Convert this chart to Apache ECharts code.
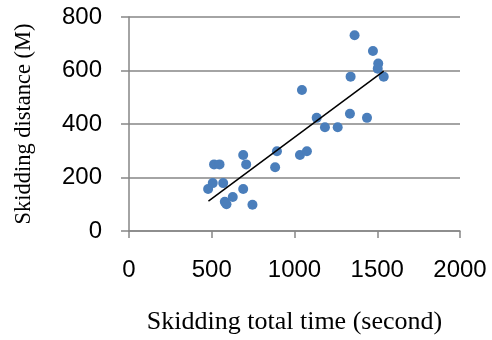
<!DOCTYPE html>
<html>
<head>
<meta charset="utf-8">
<script src="https://cdn.jsdelivr.net/npm/echarts@6/dist/echarts.min.js"></script>
<style>html,body{margin:0;padding:0;background:#fff}#c{width:492px;height:340px}</style>
</head>
<body>
<div id="c"></div>
<script>
// Skidding total time (second)
const timeSec = [478, 506, 514, 547, 569, 579, 589, 627, 690, 708, 690, 746, 883, 894, 1033, 1075, 1045, 1134, 1184, 1261, 1335, 1438, 1339, 1363, 1474, 1506, 1503, 1539];
// Skidding distance (M)
const distM = [157, 179, 249, 249, 179, 109, 100, 127, 284, 249, 157, 98, 238, 298, 284, 298, 527, 423, 388, 388, 438, 423, 577, 732, 673, 626, 607, 577];
// Linear trend line endpoints
const trendX = [480, 1539];
const trendY = [112, 598];
const xTicks = [0, 500, 1000, 1500, 2000];
const yTicks = [0, 200, 400, 600, 800];

const points = timeSec.map((t, i) => [t, distM[i]]);
const trend = trendX.map((t, i) => [t, trendY[i]]);

const chart = echarts.init(document.getElementById('c'), null, {renderer: 'canvas'});
const axisGray = '#868686';
chart.setOption({
  animation: false,
  grid: {left: 129, right: 32, top: 17, bottom: 108},
  xAxis: {
    type: 'value', min: xTicks[0], max: xTicks[xTicks.length - 1], interval: 500,
    name: 'Skidding total time (second)', nameLocation: 'middle', nameGap: 78,
    nameTextStyle: {fontFamily: 'Liberation Serif', fontSize: 26, color: '#000'},
    axisLine: {show: true, onZero: false, lineStyle: {color: axisGray, width: 1.5}},
    axisTick: {show: true, length: 7, lineStyle: {color: axisGray, width: 1.5}},
    axisLabel: {fontFamily: 'Liberation Sans', fontSize: 24, color: '#000', margin: 27,
      formatter: v => String(v)},
    splitLine: {show: false}
  },
  yAxis: {
    type: 'value', min: yTicks[0], max: yTicks[yTicks.length - 1], interval: 200,
    name: 'Skidding distance (M)', nameLocation: 'middle', nameGap: 93, nameRotate: 90,
    nameTextStyle: {fontFamily: 'Liberation Serif', fontSize: 22.5, color: '#000'},
    axisLine: {show: true, lineStyle: {color: axisGray, width: 1.5}},
    axisTick: {show: true, length: 8, lineStyle: {color: axisGray, width: 1.5}},
    axisLabel: {fontFamily: 'Liberation Sans', fontSize: 24, color: '#000', margin: 27,
      formatter: v => String(v)},
    splitLine: {show: true, lineStyle: {color: axisGray, width: 1.5}}
  },
  series: [
    {
      type: 'scatter', data: points, symbolSize: 10,
      itemStyle: {color: '#4a7ebb', opacity: 1}
    },
    {
      type: 'line', data: trend, symbol: 'none',
      lineStyle: {color: '#000', width: 1.5}
    }
  ]
});
</script>
</body>
</html>
